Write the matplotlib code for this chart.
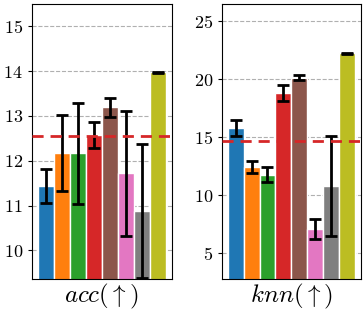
import numpy as np
import matplotlib
matplotlib.use('Agg')
import matplotlib.pyplot as plt

plt.rcParams['mathtext.fontset'] = 'cm'
plt.rcParams['font.family'] = 'cmr10'
plt.rcParams['axes.formatter.use_mathtext'] = True

colors = ['#1f77b4', '#ff7f0e', '#2ca02c', '#d62728', '#8c564b', '#e377c2', '#7f7f7f', '#bcbd22']

acc_mean = [11.43, 12.17, 12.17, 12.57, 13.19, 11.72, 10.88, 13.98]
acc_err = [0.38, 0.85, 1.13, 0.29, 0.22, 1.39, 1.50, 0.01]
acc_ref = 12.56

knn_mean = [15.83, 12.45, 11.80, 18.85, 20.14, 7.10, 10.80, 22.24]
knn_err = [0.67, 0.55, 0.68, 0.67, 0.22, 0.88, 4.30, 0.08]
knn_ref = 14.66

fig = plt.figure(figsize=(3.63, 3.13), dpi=100)
ax1 = fig.add_axes([32/363, 34/313, 140/363, 275/313])
ax2 = fig.add_axes([222/363, 34/313, 139/363, 275/313])


def panel(ax, mean, err, ref, ylim, ticks, label):
    x = np.arange(len(mean))
    ax.grid(axis='y', linestyle='--', color='#b0b0b0', linewidth=0.8, zorder=0)
    ax.set_axisbelow(True)
    ax.bar(x, mean, width=1.0, color=colors, edgecolor='white', linewidth=1.0, zorder=2)
    ax.errorbar(x, mean, yerr=err, fmt='none', ecolor='black', elinewidth=2,
                capsize=4, capthick=2, zorder=3)
    ax.axhline(ref, color='#d62728', linestyle='--', linewidth=2, dashes=(4, 2.5), zorder=4)
    ax.set_xlim(-0.86, 7.88)
    ax.set_ylim(*ylim)
    ax.set_yticks(ticks)
    ax.set_yticklabels([r'$%d$' % t for t in ticks])
    ax.set_xticks([])
    ax.tick_params(axis='y', labelsize=13, length=3)
    ax.set_xlabel(label, fontsize=18, labelpad=2)


panel(ax1, acc_mean, acc_err, acc_ref, (9.36, 15.5), [10, 11, 12, 13, 14, 15], r'$acc(\uparrow)$')
panel(ax2, knn_mean, knn_err, knn_ref, (2.8, 26.5), [5, 10, 15, 20, 25], r'$knn(\uparrow)$')

fig.savefig('out.png', dpi=100)
